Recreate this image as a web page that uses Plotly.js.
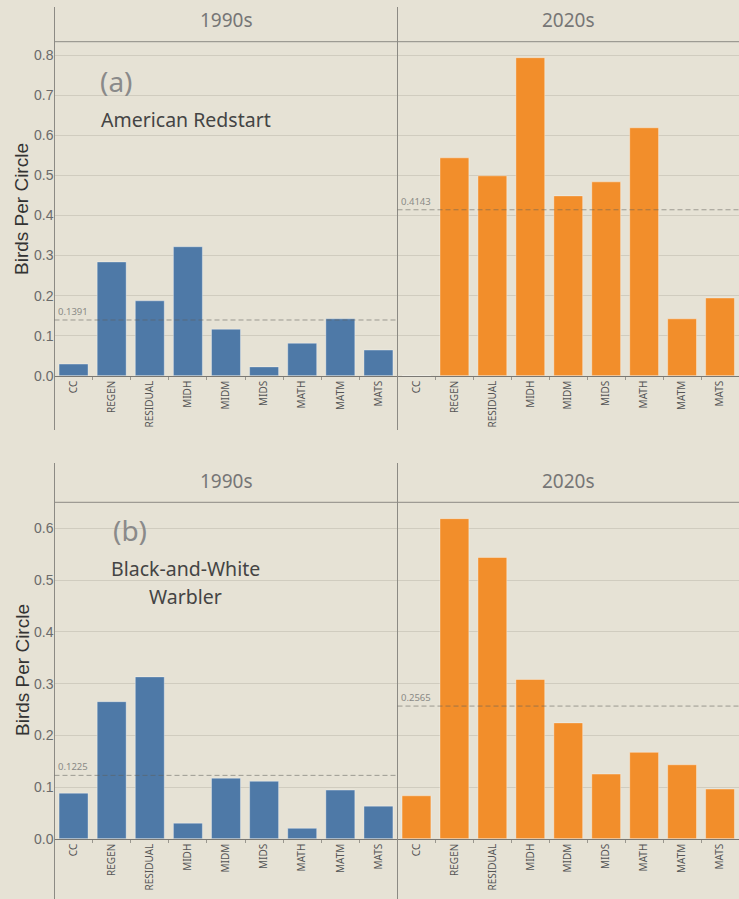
<!DOCTYPE html>
<html>
<head>
<meta charset="utf-8">
<script src="https://cdn.plot.ly/plotly-3.0.1.min.js"></script>
<style>
  html, body { margin: 0; padding: 0; background: #e6e2d5; }
  #chart { width: 739px; height: 899px; }
</style>
</head>
<body>
<div id="chart"></div>
<script>
// Habitat categories along each pane
const habitats = ["CC", "REGEN", "RESIDUAL", "MIDH", "MIDM", "MIDS", "MATH", "MATM", "MATS"];
const decades = ["1990s", "2020s"];

// (a) American Redstart, birds per circle
const redstart1990s = [0.029, 0.284, 0.187, 0.322, 0.116, 0.022, 0.081, 0.142, 0.064];
const redstart2020s = [0.0, 0.544, 0.499, 0.794, 0.449, 0.484, 0.619, 0.142, 0.194];

// (b) Black-and-White Warbler, birds per circle
const warbler1990s = [0.088, 0.265, 0.313, 0.030, 0.117, 0.111, 0.020, 0.094, 0.063];
const warbler2020s = [0.083, 0.619, 0.544, 0.308, 0.224, 0.125, 0.167, 0.143, 0.096];

// Average reference lines per pane
const redstartAvg = [0.1391, 0.4143];
const warblerAvg = [0.1225, 0.2565];

// Y tick values
const redstartTicks = [0.0, 0.1, 0.2, 0.3, 0.4, 0.5, 0.6, 0.7, 0.8];
const warblerTicks = [0.0, 0.1, 0.2, 0.3, 0.4, 0.5, 0.6];

const W = 739, H = 899;
const px = x => x / W;
const py = y => 1 - y / H;

const BG = "#e6e2d5";
const BLUE = "#4e79a7";
const ORANGE = "#f28e2b";
const GRID = "#d0ccbf";
const FRAME = "#8c8a84";
const TAB_FONT = "Noto Sans, Open Sans, sans-serif";
const ARIAL = "Liberation Sans, Arial, sans-serif";

// Pixel geometry of the panes
const leftX = 54.5, midX = 397.5, rightX = 739;
const topZero = 375.7, topHeader = 41.7, topFrameTop = 7, topFrameBottom = 430;
const botZero = 838.7, botHeader = 502.3, botFrameTop = 463, botFrameBottom = 899;
const topPxPerUnit = 400.5, botPxPerUnit = 517;

function bar(xs, ys, color, xa, ya) {
  return {
    type: "bar", x: xs, y: ys, xaxis: xa, yaxis: ya,
    marker: { color: color, line: { color: "rgba(255,255,255,0.35)", width: 1 } },
    hoverinfo: "x+y"
  };
}

const data = [
  bar(habitats, redstart1990s, BLUE, "x", "y"),
  bar(habitats, redstart2020s, ORANGE, "x2", "y"),
  bar(habitats, warbler1990s, BLUE, "x3", "y2"),
  bar(habitats, warbler2020s, ORANGE, "x4", "y2")
];

function xAxis(domain, anchor) {
  return {
    domain: domain, anchor: anchor, type: "category",
    categoryorder: "array", categoryarray: habitats,
    tickangle: -90, tickfont: { family: TAB_FONT, size: 10, color: "#555" },
    showline: true, linecolor: "#7a7873", linewidth: 1,
    ticks: "outside", tickson: "boundaries", ticklen: 3, tickcolor: "#9a978f",
    showgrid: false, zeroline: false, fixedrange: true
  };
}

function yAxis(domain, anchor, top, ticks) {
  return {
    domain: domain, anchor: anchor, range: [0, top],
    tickvals: ticks, ticktext: ticks.map(v => v.toFixed(1)),
    tickfont: { family: ARIAL, size: 14, color: "#6b6b6b" },
    showgrid: true, gridcolor: GRID, gridwidth: 1,
    zeroline: false, showline: false, ticks: "", fixedrange: true
  };
}

const topRange = (topZero - topHeader) / topPxPerUnit;
const botRange = (botZero - botHeader) / botPxPerUnit;

const leftDom = [px(leftX), px(midX)];
const rightDom = [px(midX), 1];
const topDom = [py(topZero), py(topHeader)];
const botDom = [py(botZero), py(botHeader)];

const shapes = [];
const annotations = [];

// Text placed at a pixel position, centred unless told otherwise
function label(x, y, text, font, extra) {
  annotations.push(Object.assign({
    xref: "paper", yref: "paper", x: px(x), y: py(y), text: text,
    xanchor: "center", yanchor: "middle", showarrow: false, font: font
  }, extra || {}));
}

function frame(frameTop, header, frameBottom, textY) {
  const line = { color: FRAME, width: 1 };
  shapes.push({ type: "line", xref: "paper", yref: "paper", x0: px(leftX), x1: 1, y0: py(header), y1: py(header), line: line, layer: "above" });
  shapes.push({ type: "line", xref: "paper", yref: "paper", x0: px(leftX), x1: px(leftX), y0: py(frameTop), y1: py(frameBottom), line: line, layer: "above" });
  shapes.push({ type: "line", xref: "paper", yref: "paper", x0: px(midX), x1: px(midX), y0: py(frameTop), y1: py(frameBottom), line: line, layer: "above" });
  const f = { family: TAB_FONT, size: 19, color: "#767676" };
  label((leftX + midX) / 2, textY, decades[0], f);
  label((midX + rightX) / 2, textY, decades[1], f);
}

function refLine(xa, ya, value) {
  shapes.push({ type: "line", xref: xa + " domain", yref: ya, x0: 0, x1: 1, y0: value, y1: value, layer: "above",
    line: { color: "rgba(95,95,90,0.55)", width: 1, dash: "5px,3px" } });
  annotations.push({ xref: xa + " domain", yref: ya, x: 0, y: value, xanchor: "left", yanchor: "bottom", xshift: 1, yshift: 0,
    text: value.toFixed(4), showarrow: false, font: { family: TAB_FONT, size: 9.5, color: "#8a8a86" } });
}

frame(topFrameTop, topHeader, topFrameBottom, 20);
frame(botFrameTop, botHeader, botFrameBottom, 481);

refLine("x", "y", redstartAvg[0]);
refLine("x2", "y", redstartAvg[1]);
refLine("x3", "y2", warblerAvg[0]);
refLine("x4", "y2", warblerAvg[1]);

// Axis titles
const titleFont = { family: ARIAL, size: 19, color: "#333" };
label(22, 209, "Birds Per Circle", titleFont, { textangle: -90 });
label(22, 670, "Birds Per Circle", titleFont, { textangle: -90 });

// Panel labels and species names
const tagFont = { family: TAB_FONT, size: 28, color: "#8a8a8a" };
const speciesFont = { family: TAB_FONT, size: 19.5, color: "#444" };
label(116, 81, "(a)", tagFont);
label(99, 119, "American Redstart", speciesFont, { xanchor: "left" });
label(130, 530, "(b)", tagFont);
label(185, 568, "Black-and-White", speciesFont);
label(185, 596, "Warbler", speciesFont);

const layout = {
  width: W, height: H,
  margin: { l: 0, r: 0, t: 0, b: 0 },
  paper_bgcolor: BG, plot_bgcolor: BG,
  showlegend: false, bargap: 0.24,
  xaxis: xAxis(leftDom, "y"),
  xaxis2: xAxis(rightDom, "y"),
  xaxis3: xAxis(leftDom, "y2"),
  xaxis4: xAxis(rightDom, "y2"),
  yaxis: yAxis(topDom, "x", topRange, redstartTicks),
  yaxis2: yAxis(botDom, "x3", botRange, warblerTicks),
  shapes: shapes,
  annotations: annotations
};

Plotly.newPlot("chart", data, layout, { displayModeBar: false, staticPlot: true });
</script>
</body>
</html>
